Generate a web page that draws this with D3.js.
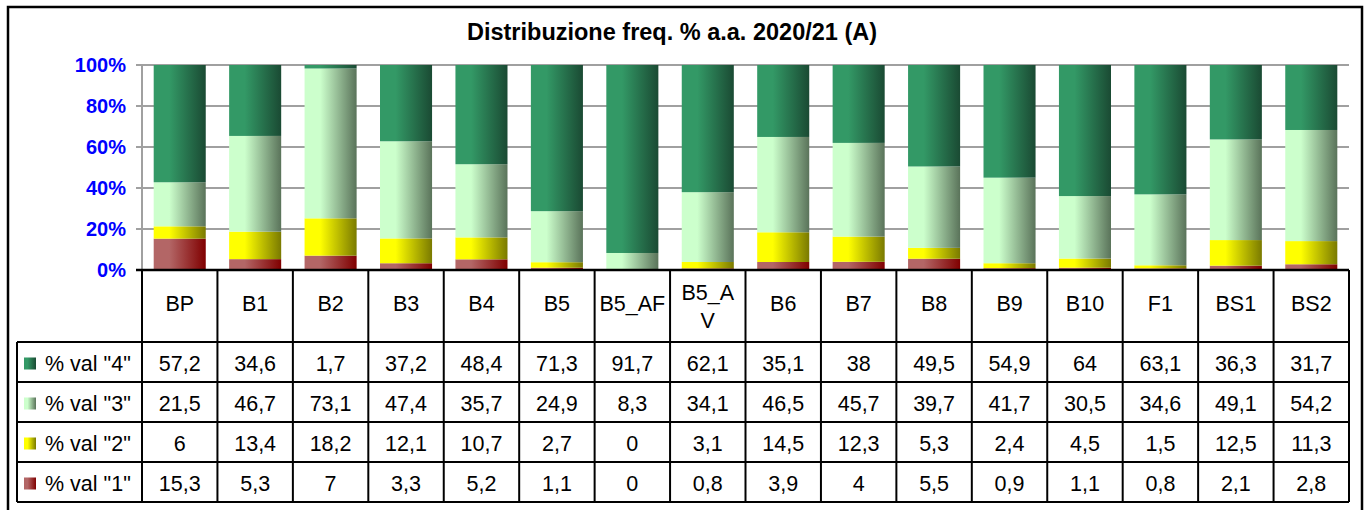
<!DOCTYPE html>
<html>
<head>
<meta charset="utf-8">
<script src="https://cdn.jsdelivr.net/npm/d3@7/dist/d3.min.js"></script>
<style>
  body { margin: 0; background: #fff; }
  svg text { font-family: "Liberation Sans", Arial, sans-serif; }
</style>
</head>
<body>
<svg id="chart" width="1370" height="510"></svg>
<script>
// data
const categories = ["BP", "B1", "B2", "B3", "B4", "B5", "B5_AF", "B5_AV", "B6", "B7", "B8", "B9", "B10", "F1", "BS1", "BS2"];
// header labels as wrapped in the table cells
const categoryLabels = [["BP"], ["B1"], ["B2"], ["B3"], ["B4"], ["B5"], ["B5_AF"], ["B5_A", "V"], ["B6"], ["B7"], ["B8"], ["B9"], ["B10"], ["F1"], ["BS1"], ["BS2"]];
const val4 = [57.2, 34.6, 1.7, 37.2, 48.4, 71.3, 91.7, 62.1, 35.1, 38, 49.5, 54.9, 64, 63.1, 36.3, 31.7];
const val3 = [21.5, 46.7, 73.1, 47.4, 35.7, 24.9, 8.3, 34.1, 46.5, 45.7, 39.7, 41.7, 30.5, 34.6, 49.1, 54.2];
const val2 = [6, 13.4, 18.2, 12.1, 10.7, 2.7, 0, 3.1, 14.5, 12.3, 5.3, 2.4, 4.5, 1.5, 12.5, 11.3];
const val1 = [15.3, 5.3, 7, 3.3, 5.2, 1.1, 0, 0.8, 3.9, 4, 5.5, 0.9, 1.1, 0.8, 2.1, 2.8];
const seriesNames = ['% val "4"', '% val "3"', '% val "2"', '% val "1"'];
const yTicks = [0, 0.2, 0.4, 0.6, 0.8, 1];
const title = "Distribuzione freq. % a.a. 2020/21 (A)";

const seriesVals = [val4, val3, val2, val1];
// light -> dark horizontal gradients (Excel style)
const gradColors = [["#339966", "#1a4a33"], ["#ccffcc", "#5a735a"], ["#ffff00", "#7a7a00"], ["#b36666", "#800000"]];

const svg = d3.select("#chart");
const plotLeft = 142, plotRight = 1349, plotTop = 65, plotBase = 270;

// gradients
const defs = svg.append("defs");
seriesNames.forEach((s, i) => {
    const g = defs.append("linearGradient").attr("id", "grad" + i)
        .attr("x1", 0).attr("x2", 1).attr("y1", 0).attr("y2", 0);
    g.append("stop").attr("offset", 0).attr("stop-color", gradColors[i][0]);
    g.append("stop").attr("offset", 0.3).attr("stop-color", gradColors[i][0]);
    g.append("stop").attr("offset", 1).attr("stop-color", gradColors[i][1]);
});

// outer frame
svg.append("rect").attr("x", 8).attr("y", 7).attr("width", 1354).attr("height", 530)
    .attr("fill", "#fff").attr("stroke", "#000").attr("stroke-width", 2.5);

svg.append("text").attr("x", 672).attr("y", 32)
    .attr("text-anchor", "middle").attr("dominant-baseline", "central")
    .attr("font-size", 23.5).attr("font-weight", "bold").text(title);

const cols = d3.scaleBand().domain(categories).range([plotLeft, plotRight]).padding(0);
const xBar = d3.scaleBand().domain(categories).range([plotLeft, plotRight]).paddingInner(0.31).paddingOuter(0.155);
const y = d3.scaleLinear().domain([0, 1]).range([plotBase, plotTop]);

// gridlines + ticks
svg.append("g").selectAll("line").data(yTicks.filter(t => t > 0)).join("line")
    .attr("x1", plotLeft - 6).attr("x2", plotRight).attr("y1", d => y(d)).attr("y2", d => y(d))
    .attr("stroke", "#a0a0a0").attr("stroke-width", 2);
svg.append("line").attr("x1", plotLeft - 6).attr("x2", plotLeft).attr("y1", plotBase).attr("y2", plotBase)
    .attr("stroke", "#a0a0a0").attr("stroke-width", 2);
svg.append("line").attr("x1", plotLeft).attr("x2", plotLeft).attr("y1", plotTop).attr("y2", plotBase)
    .attr("stroke", "#a0a0a0").attr("stroke-width", 2);

svg.append("g").selectAll("text").data(yTicks).join("text")
    .attr("x", 126).attr("y", d => y(d)).attr("dy", "0.36em")
    .attr("text-anchor", "end").attr("font-size", 20).attr("font-weight", "bold")
    .attr("fill", "#0000ff").text(d => d3.format(".0%")(d));

// stacked bars
const table = categories.map((c, j) => {
    const row = { cat: c };
    seriesNames.forEach((s, i) => row[s] = seriesVals[i][j]);
    return row;
});
const stack = d3.stack().keys(seriesNames.slice().reverse()).offset(d3.stackOffsetExpand);
const layers = stack(table);

svg.append("g").selectAll("g").data(layers).join("g")
    .attr("fill", d => "url(#grad" + seriesNames.indexOf(d.key) + ")")
    .selectAll("rect").data(d => d).join("rect")
    .attr("x", d => xBar(d.data.cat))
    .attr("width", xBar.bandwidth())
    .attr("y", d => y(d[1]))
    .attr("height", d => y(d[0]) - y(d[1]));

// data table
const catTop = plotBase, catBottom = 342, tableBottom = 502, legendLeft = 17;
const rows = d3.scaleBand().domain(seriesNames).range([catBottom, tableBottom]);
const fmt = v => String(v).replace(".", ",");
const tg = svg.append("g");
const fs = 21.5;

// category header cells
categories.forEach((c, j) => {
    const cx = cols(c) + cols.bandwidth() / 2;
    const lines = categoryLabels[j];
    const t = tg.append("text").attr("text-anchor", "middle").attr("font-size", fs);
    lines.forEach((l, k) => t.append("tspan").attr("x", cx)
        .attr("y", lines.length === 1 ? 303 : 306 + (k - 0.5) * 28)
        .attr("dy", "0.36em").text(l));
});

// values
seriesNames.forEach((s, i) => {
    const ry = rows(s) + rows.bandwidth() / 2 + 1.5;
    tg.append("g").selectAll("text").data(seriesVals[i]).join("text")
        .attr("x", (d, j) => cols(categories[j]) + cols.bandwidth() / 2)
        .attr("y", ry).attr("dy", "0.36em").attr("text-anchor", "middle")
        .attr("font-size", fs).text(d => fmt(d));
    tg.append("rect").attr("x", 24).attr("y", ry - 6).attr("width", 12).attr("height", 12)
        .attr("fill", "url(#grad" + i + ")");
    tg.append("text").attr("x", 45).attr("y", ry).attr("dy", "0.36em")
        .attr("font-size", fs).text(s);
});

// table grid lines
const lineAttrs = sel => sel.attr("stroke", "#000").attr("stroke-width", 2);
tg.append("g").selectAll("line").data(categories.map(c => cols(c)).concat([plotRight])).join("line")
    .attr("x1", d => d).attr("x2", d => d).attr("y1", catTop).attr("y2", tableBottom).call(lineAttrs);
tg.append("line").attr("x1", legendLeft).attr("x2", legendLeft).attr("y1", catBottom).attr("y2", tableBottom).call(lineAttrs);
tg.append("g").selectAll("line").data(seriesNames.map(s => rows(s)).concat([tableBottom])).join("line")
    .attr("x1", legendLeft).attr("x2", plotRight).attr("y1", d => d).attr("y2", d => d).call(lineAttrs);
tg.append("line").attr("x1", plotLeft - 6).attr("x2", plotRight).attr("y1", catTop).attr("y2", catTop)
    .attr("stroke", "#000").attr("stroke-width", 2.5);
</script>
</body>
</html>
